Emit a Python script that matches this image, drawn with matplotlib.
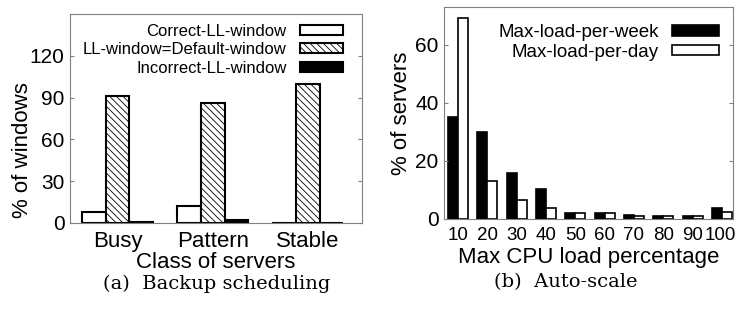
import numpy as np
import matplotlib.pyplot as plt
from matplotlib.transforms import ScaledTranslation

plt.rcParams['font.family'] = ['Liberation Sans', 'DejaVu Sans']
plt.rcParams['hatch.linewidth'] = 0.6

# (a) backup scheduling
classes = ['Busy', 'Pattern', 'Stable']
correct_ll = [8, 12, 0.3]
default_ll = [91, 86, 99.5]
incorrect_ll = [1, 2, 0.1]

# (b) auto-scale
cpu_load = ['10', '20', '30', '40', '50', '60', '70', '80', '90', '100']
per_week = [35, 30, 16, 10.4, 1.9, 2.2, 1.4, 1.2, 1.2, 3.9]
per_day = [69.3, 13, 6.7, 3.8, 1.9, 1.9, 1.0, 1.0, 1.0, 2.4]

W, H = 737, 312
fig = plt.figure(figsize=(W / 100, H / 100), dpi=100)

def frac(x0, y0, x1, y1):
    return [x0 / W, 1 - y1 / H, (x1 - x0) / W, (y1 - y0) / H]

def style(ax):
    for s in ax.spines.values():
        s.set_color('#808080')
        s.set_linewidth(0.8)
    ax.tick_params(axis='y', direction='in', length=3, right=True, color='#808080',
                   labelsize=15, pad=4)
    ax.tick_params(axis='x', length=0, labelsize=16, pad=6)

# ---- left chart
ax1 = fig.add_axes(frac(70, 14, 362, 223))
x = np.arange(len(classes))
w = 0.25
ax1.bar(x - w, correct_ll, w, color='white', edgecolor='black', lw=1.5, label='Correct-LL-window')
ax1.bar(x, default_ll, w, color='white', edgecolor='black', lw=1.5, hatch='\\\\\\\\\\',
        label='LL-window=Default-window')
ax1.bar(x + w, incorrect_ll, w, color='black', edgecolor='black', lw=1.5, label='Incorrect-LL-window')
ax1.set_xlim(-0.5, 2.57)
ax1.set_ylim(0, 150)
ax1.set_yticks([0, 30, 60, 90, 120])
ax1.set_xticks(x)
ax1.set_xticklabels(classes)
ax1.set_ylabel('% of windows', fontsize=16)
ax1.yaxis.set_label_coords(-0.127, 0.35)
ax1.set_xlabel('Class of servers', fontsize=16, labelpad=0)
style(ax1)
ax1.legend(loc='upper right', bbox_to_anchor=(0.97, 1.0), frameon=False, fontsize=12,
           markerfirst=False, handlelength=2.6, handleheight=0.55, labelspacing=0.2,
           handletextpad=0.8, borderaxespad=0.2)

# ---- right chart
ax2 = fig.add_axes(frac(444, 7, 733, 219))
x2 = np.arange(len(cpu_load))
w2 = 0.34
ax2.bar(x2 - w2 / 2, per_week, w2, color='black', edgecolor='black', lw=1.2, label='Max-load-per-week')
ax2.bar(x2 + w2 / 2, per_day, w2, color='white', edgecolor='black', lw=1.2, label='Max-load-per-day')
ax2.set_xlim(-0.48, 9.38)
ax2.set_ylim(0, 73)
ax2.set_yticks([0, 20, 40, 60])
ax2.set_xticks(x2)
ax2.set_xticklabels(cpu_load)
ax2.set_ylabel('% of servers', fontsize=16)
ax2.yaxis.set_label_coords(-0.111, 0.5)
ax2.set_xlabel('Max CPU load percentage', fontsize=16, labelpad=2)
style(ax2)
ax2.tick_params(axis='x', labelsize=13.5, pad=6)
last = ax2.get_xticklabels()[-1]
last.set_transform(last.get_transform() + ScaledTranslation(-2 / 100, 0, fig.dpi_scale_trans))
ax2.legend(loc='upper right', bbox_to_anchor=(1.01, 1.0), frameon=False, fontsize=13.5,
           markerfirst=False, handlelength=2.5, handleheight=0.5, labelspacing=0.15,
           handletextpad=0.7, borderaxespad=0.5)

fig.text(217 / W, 1 - 284 / H, '(a)  Backup scheduling', ha='center', va='center',
         fontsize=14, family='DejaVu Serif')
fig.text(566 / W, 1 - 282 / H, '(b)  Auto-scale', ha='center', va='center',
         fontsize=14, family='DejaVu Serif')

fig.savefig('out.png', dpi=100)
